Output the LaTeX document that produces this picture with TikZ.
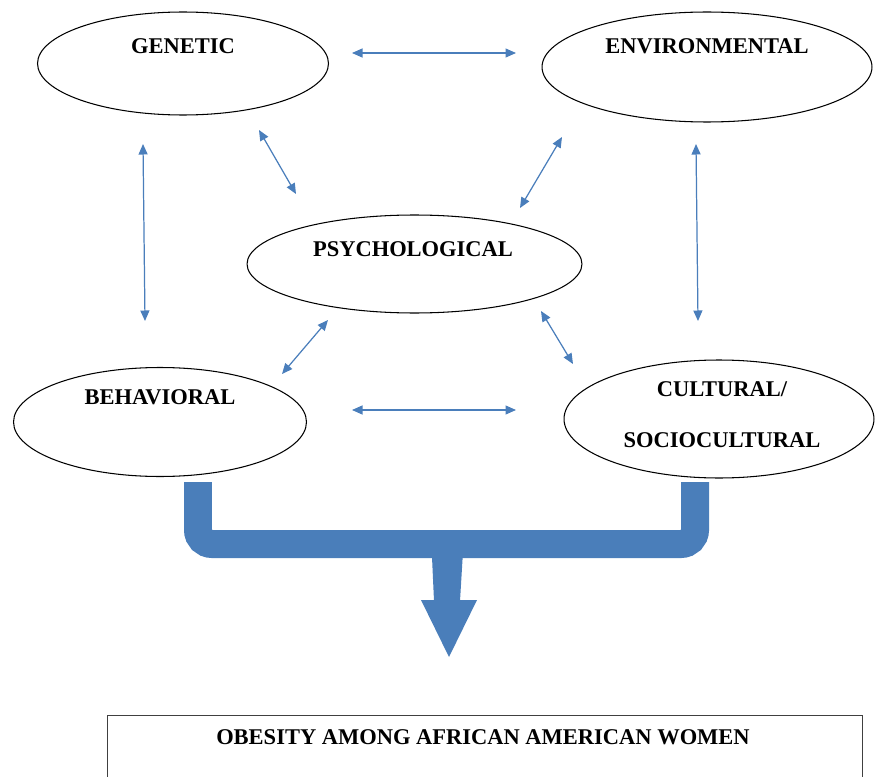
\documentclass[tikz,border=0pt]{standalone}
\usepackage{fontspec}
\setmainfont{Liberation Serif}
\usetikzlibrary{shapes.geometric,arrows.meta}
\definecolor{linkblue}{HTML}{4A7EBB}
\definecolor{flowblue}{HTML}{4A7EBA}
\definecolor{boxgray}{HTML}{404040}

\begin{document}
\begin{tikzpicture}[x=0.02cm,y=-0.02cm]

        \clip (0,0) rectangle (876,777);

        \begin{scope}[every node/.style={ellipse,draw,line width=0.6pt,inner sep=0pt}]
          \node[minimum width=5.82cm,minimum height=2.06cm] (1) at (183,63.5) {};
          \node[minimum width=6.6cm,minimum height=2.2cm]   (2) at (707,67)   {};
          \node[minimum width=6.7cm,minimum height=1.96cm]  (3) at (414.5,264) {};
          \node[minimum width=5.86cm,minimum height=2.18cm] (4) at (160,422)  {};
          \node[minimum width=6.2cm,minimum height=2.36cm]  (5) at (719,419)  {};
        \end{scope}

        \node[draw=boxgray,line width=0.6pt,anchor=north west,
              minimum width=15.1cm,minimum height=1.8cm] (6) at (107,715) {};

        \begin{scope}[every node/.style={anchor=base,font=\bfseries\fontsize{12.8}{14}\selectfont,inner sep=0pt}]
          \node (t1) at (183,54)  {GENETIC};
          \node (t2) at (707,54)  {ENVIRONMENTAL};
          \node (t3) at (413,256) {PSYCHOLOGICAL};
          \node (t4) at (160,404) {BEHAVIORAL};
          \node (t5) at (722,396) {CULTURAL/};
          \node (t6) at (722,447) {SOCIOCULTURAL};
          \node (t7) at (483,744) {OBESITY AMONG AFRICAN AMERICAN WOMEN};
        \end{scope}

        % arrow ends
        \coordinate (a1)  at (352,53);   \coordinate (b1) at (516,53);
        \coordinate (a2)  at (143,144);  \coordinate (b2) at (145,321);
        \coordinate (a3)  at (259,130);  \coordinate (b3) at (296,194);
        \coordinate (a4)  at (562,137);  \coordinate (b4) at (520,208);
        \coordinate (a5)  at (696,144);  \coordinate (b5) at (698,321);
        \coordinate (a6)  at (328,320);  \coordinate (b6) at (282,374);
        \coordinate (a7)  at (541,311);  \coordinate (b7) at (573,364);
        \coordinate (a8)  at (352,410);  \coordinate (b8) at (516,410);

        \begin{scope}[every edge/.style={draw,linkblue,line width=0.7pt,
                      {Triangle[length=0.21cm,width=0.18cm]}-{Triangle[length=0.21cm,width=0.18cm]}}]
          \path (a1) edge (b1);
          \path (a2) edge (b2);
          \path (a3) edge (b3);
          \path (a4) edge (b4);
          \path (a5) edge (b5);
          \path (a6) edge (b6);
          \path (a7) edge (b7);
          \path (a8) edge (b8);
        \end{scope}

        % big arrow to the box
        \coordinate (l) at (198,482);
        \coordinate (r) at (695,482);
        \coordinate (j) at (447,544);
        \draw[flowblue,line width=0.56cm,rounded corners=0.28cm]
          (l) -- (l |- j) -- (r |- j) -- (r);
        \fill[flowblue] (431,535) -- (464,535) -- (460,601) -- (434,601) -- cycle;
        \fill[flowblue] (421,600) -- (477,600) -- (449,657) -- cycle;

      \end{tikzpicture}
\end{document}
